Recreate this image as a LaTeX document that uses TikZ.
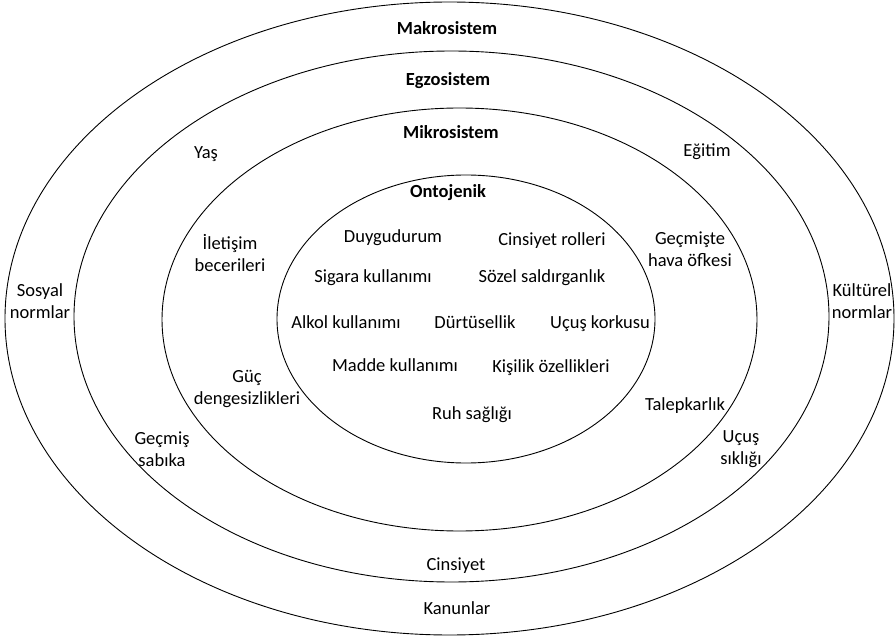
\documentclass[tikz,border=0pt]{standalone}
\usepackage{fontspec}
\setmainfont{Carlito}
\begin{document}
\begin{tikzpicture}[x=1pt,y=-1pt,line width=0.9pt,
  lbl/.style={font=\fontsize{18.5}{22}\selectfont, inner sep=0pt, text height=12pt, text depth=0pt},
  two/.style={font=\fontsize{18.5}{22}\selectfont, inner sep=0pt, align=center},
  ttl/.style={font=\fontsize{18.5}{22}\selectfont\bfseries, inner sep=0pt, text height=12pt, text depth=0pt}]
\useasboundingbox (0,0) rectangle (895,639);
% rings
\draw (449.5,318.5) ellipse [x radius=444.5pt, y radius=316.5pt];
\draw (451.5,316.5) ellipse [x radius=377.5pt, y radius=265.5pt];
\draw (459.5,319.5) ellipse [x radius=297.5pt, y radius=211.5pt];
\draw (466,319) ellipse [x radius=189pt, y radius=144pt];
% titles
\node[ttl] (makro) at (447,29) {Makrosistem};
\node[ttl] (egzo) at (448,80) {Egzosistem};
\node[ttl] (mikro) at (451,133) {Mikrosistem};
\node[ttl] (onto) at (448,192) {Ontojenik};
% makrosistem
\node[two] (sosyal) at (40,301) {Sosyal\\normlar};
\node[two] (kultur) at (862,301) {Kültürel\\normlar};
\node[lbl] (kanun) at (457,608) {Kanunlar};
% egzosistem
\node[lbl] (yas) at (206,153) {Yaş};
\node[lbl] (egitim) at (707,151) {Eğitim};
\node[two] (sabika) at (162,449) {Geçmiş\\sabıka};
\node[two] (siklik) at (741,449) {Uçuş\\sıklığı};
\node[lbl] (cins) at (456,564) {Cinsiyet};
% mikrosistem
\node[two] (ileti) at (230,253) {İletişim\\becerileri};
\node[two] (ofke) at (690,249) {Geçmişte\\hava öfkesi};
\node[two] (guc) at (247,389) {Güç\\dengesizlikleri};
\node[lbl] (talep) at (685,404) {Talepkarlık};
% ontojenik
\node[lbl] (duygu) at (393,237) {Duygudurum};
\node[lbl] (roller) at (552,240) {Cinsiyet rolleri};
\node[lbl] (sigara) at (373,277) {Sigara kullanımı};
\node[lbl] (sozel) at (542,277) {Sözel saldırganlık};
\node[lbl] (alkol) at (346,323) {Alkol kullanımı};
\node[lbl] (durtu) at (475,323) {Dürtüsellik};
\node[lbl] (korku) at (600,323) {Uçuş korkusu};
\node[lbl] (madde) at (395,365) {Madde kullanımı};
\node[lbl] (kisilik) at (551,366) {Kişilik özellikleri};
\node[lbl] (ruh) at (472,413) {Ruh sağlığı};
\end{tikzpicture}
\end{document}
